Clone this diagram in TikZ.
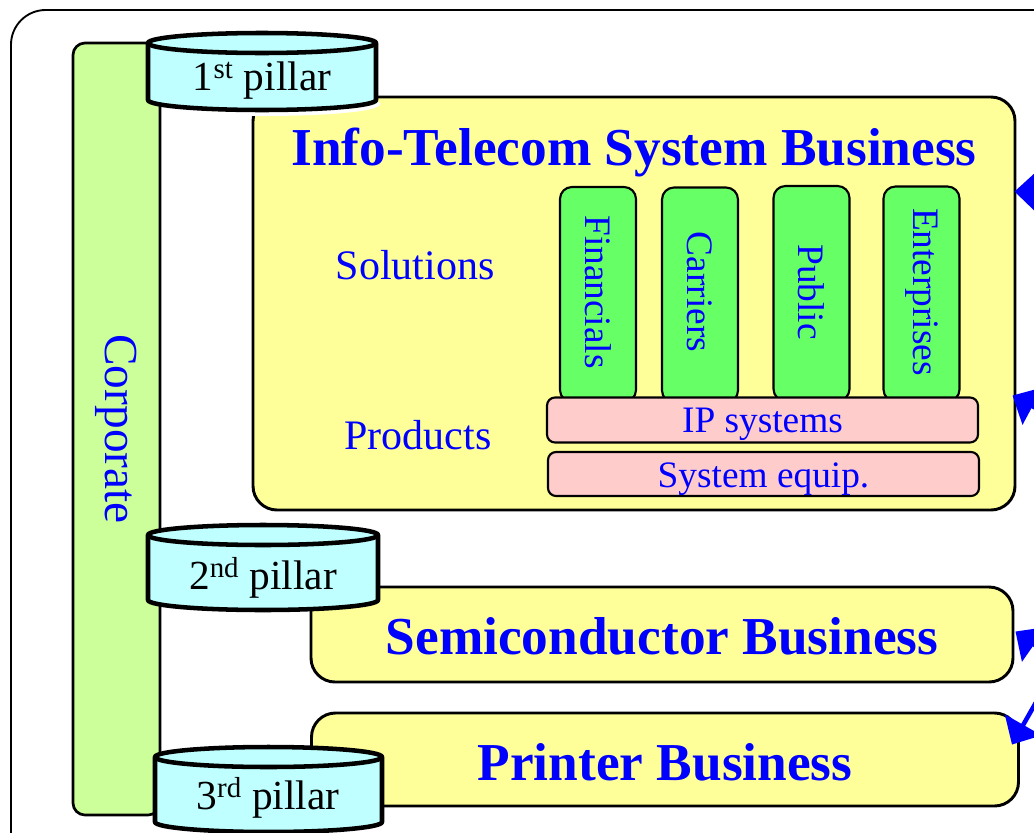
\documentclass[tikz,border=0pt]{standalone}
\usepackage{fontspec}
\setmainfont{Liberation Serif}
\usetikzlibrary{arrows.meta, calc}

\definecolor{bizyellow}{HTML}{FFFF99}
\definecolor{corpgreen}{HTML}{CCFF99}
\definecolor{pillarcyan}{HTML}{BFFFFF}
\definecolor{seggreen}{HTML}{66FF66}
\definecolor{layerpink}{HTML}{FFCCCC}

% one pixel of the layout grid
\newlength{\pxu}
\setlength{\pxu}{0.75pt}

\tikzset{
  bizbox/.style={draw=black, line width=2.2pt, fill=bizyellow, rounded corners=18pt, inner sep=0pt},
  segbox/.style={draw=black, line width=1.6pt, fill=seggreen, rounded corners=9pt, inner sep=0pt},
  layerbox/.style={draw=black, line width=1.6pt, fill=layerpink, rounded corners=6pt, inner sep=0pt},
  pillarcyl/.style={draw=black, line width=3.4pt, fill=pillarcyan, line join=round},
  bizlabel/.style={text=blue, font=\fontsize{40}{44}\selectfont\bfseries},
  bluelabel/.style={text=blue, font=\fontsize{28}{30}\selectfont},
  pillarlabel/.style={font=\fontsize{31}{34}\selectfont},
  feed/.style={draw=blue, line width=3.4pt, -{Triangle[length=17pt, width=31pt]}},
}

\begin{document}
\begin{tikzpicture}[x=0.75pt, y=-0.75pt]
  \useasboundingbox (0,0) rectangle (1034,832);
  \clip (0,0) rectangle (1034,832);

  % outer frame
  \draw[line width=1.4pt, rounded corners=26pt] (11,10) rectangle (1080,870);

  % Corporate bar
  \node[draw=black, line width=2pt, fill=corpgreen, rounded corners=9pt, inner sep=0pt,
        minimum width=87*\pxu, minimum height=772*\pxu] (corp) at (116.5,429) {};
  \node[rotate=-90, text=blue, font=\fontsize{35.5}{38}\selectfont] (corptxt) at (corp) {Corporate};

  % Info-Telecom block
  \node[bizbox, minimum width=762*\pxu, minimum height=413*\pxu] (itb) at (634,303.5) {};
  \node[bizlabel] (itbtxt) at (634,152) {Info-Telecom System Business};
  \node[text=blue, font=\fontsize{31.5}{34}\selectfont] (sol) at (415,265) {Solutions};
  \node[text=blue, font=\fontsize{31.5}{34}\selectfont] (prod) at (418,435) {Products};

  % solution columns
  \foreach \x/\y/\name/\lbl in {598/294.5/fin/Financials, 700/295/car/Carriers,
                                811.5/293.5/pub/Public, 921.5/294/ent/Enterprises} {
    \node[segbox, minimum width=76*\pxu, minimum height=215*\pxu] (\name) at (\x,\y) {};
    \node[bluelabel, rotate=-90] (\name txt) at (\x,292) {\lbl};
  }

  % product layers
  \node[layerbox, minimum width=431*\pxu, minimum height=45*\pxu] (ip) at (762.5,420) {};
  \node[bluelabel] (iptxt) at ($(ip)+(0,4)$) {IP systems};
  \node[layerbox, minimum width=431*\pxu, minimum height=44*\pxu] (equip) at (763.5,474) {};
  \node[bluelabel] (equiptxt) at ($(equip)+(0,5)$) {System equip.};

  % Semiconductor and Printer blocks
  \node[bizbox, minimum width=702*\pxu, minimum height=95*\pxu] (semi) at (662,634.5) {};
  \node[bizlabel] (semitxt) at ($(semi)+(0,2)$) {Semiconductor Business};
  \node[bizbox, minimum width=707*\pxu, minimum height=93*\pxu] (prn) at (665,759.5) {};
  \node[bizlabel] (prntxt) at ($(prn)+(0,3)$) {Printer Business};

  % pillars (cylinders)
  \draw[white, line width=9pt] (163,105) arc[start angle=150, end angle=0, x radius=114, y radius=10];
  \filldraw[pillarcyl] (148,43) -- (148,100) arc[start angle=180, end angle=0, x radius=114, y radius=10]
    -- (376,43) arc[start angle=0, end angle=-180, x radius=114, y radius=10] -- cycle;
  \draw[pillarcyl, fill=none] (148,43) arc[start angle=180, end angle=0, x radius=114, y radius=10];
  \node[pillarlabel] (p1) at (262,81) {1\textsuperscript{st} pillar};

  \filldraw[pillarcyl] (148,535) -- (148,600) arc[start angle=180, end angle=0, x radius=115, y radius=10]
    -- (378,535) arc[start angle=0, end angle=-180, x radius=115, y radius=10] -- cycle;
  \draw[pillarcyl, fill=none] (148,535) arc[start angle=180, end angle=0, x radius=115, y radius=10];
  \node[pillarlabel] (p2) at (263,578) {2\textsuperscript{nd} pillar};

  \filldraw[pillarcyl] (155,757) -- (155,822) arc[start angle=180, end angle=0, x radius=113.5, y radius=10]
    -- (382,757) arc[start angle=0, end angle=-180, x radius=113.5, y radius=10] -- cycle;
  \draw[pillarcyl, fill=none] (155,757) arc[start angle=180, end angle=0, x radius=113.5, y radius=10];
  \node[pillarlabel] (p3) at (268,798) {3\textsuperscript{rd} pillar};

  % feeds coming in from the right
  \coordinate (src1) at (1120,193);
  \coordinate (src2) at (1096,440);
  \coordinate (src3) at (1075,673);
  \coordinate (src4) at (1063,655);
  \draw[feed] (src1) -- ($(itb.north east)+(-2,96)$);
  \draw[feed] (src2) -- ($(itb.north east)+(-4,300)$);
  \draw[feed] (src3) -- ($(semi.east)+(1,-3)$);
  \draw[feed] (src4) -- ($(prn.north east)+(-8,33)$);
\end{tikzpicture}
\end{document}
